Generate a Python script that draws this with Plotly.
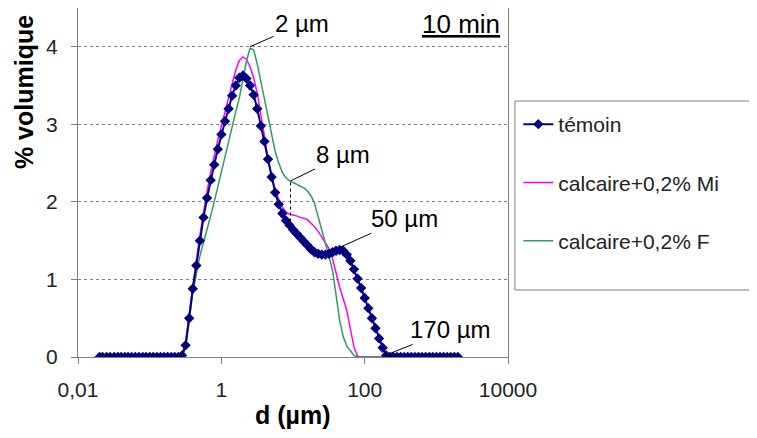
import plotly.graph_objects as go

# Size classes (µm) of the granulometer
d_um = [0.020, 0.022, 0.025, 0.028, 0.032, 0.036, 0.040, 0.045, 0.050, 0.056,
        0.063, 0.071, 0.080, 0.089, 0.100, 0.112, 0.126, 0.142, 0.159, 0.178,
        0.200, 0.224, 0.252, 0.283, 0.317, 0.356, 0.399, 0.448, 0.502, 0.564,
        0.632, 0.710, 0.796, 0.893, 1.002, 1.125, 1.262, 1.416, 1.589, 1.783,
        2.000, 2.244, 2.518, 2.825, 3.170, 3.557, 3.991, 4.477, 5.024, 5.637,
        6.325, 7.096, 7.962, 8.934, 10.024, 11.247, 12.619, 14.159, 15.887, 17.825,
        20.000, 22.440, 25.179, 28.251, 31.698, 35.566, 39.905, 44.774, 50.238, 56.368,
        63.246, 70.963, 79.621, 89.337, 100.237, 112.468, 126.191, 141.589, 158.866, 178.250,
        200.000, 224.404, 251.785, 282.508, 316.979, 355.656, 399.052, 447.744, 502.377, 563.677,
        632.456, 709.627, 796.214, 893.367, 1002.374, 1124.683, 1261.915, 1415.892, 1588.656, 1782.502,
        2000.000]

temoin = [0, 0, 0, 0, 0, 0, 0, 0, 0, 0,
          0, 0, 0, 0, 0, 0, 0, 0, 0, 0,
          0, 0, 0, 0.02, 0.15, 0.50, 0.88, 1.18, 1.50, 1.80,
          2.05, 2.28, 2.48, 2.68, 2.87, 3.04, 3.20, 3.37, 3.50, 3.60,
          3.63, 3.59, 3.50, 3.38, 3.20, 2.98, 2.78, 2.55, 2.32, 2.12,
          1.97, 1.85, 1.76, 1.70, 1.64, 1.59, 1.54, 1.49, 1.44, 1.39,
          1.35, 1.33, 1.32, 1.32, 1.33, 1.35, 1.37, 1.38, 1.37, 1.32,
          1.24, 1.13, 1.01, 0.89, 0.76, 0.63, 0.50, 0.37, 0.24, 0.12,
          0.02, 0, 0, 0, 0, 0, 0, 0, 0, 0,
          0, 0, 0, 0, 0, 0, 0, 0, 0, 0,
          0]

calc_mi = [0, 0, 0, 0, 0, 0, 0, 0, 0, 0,
           0, 0, 0, 0, 0, 0, 0, 0, 0, 0,
           0, 0, 0, 0.03, 0.20, 0.55, 0.93, 1.25, 1.57, 1.88,
           2.14, 2.38, 2.60, 2.80, 2.98, 3.15, 3.33, 3.52, 3.70, 3.82,
           3.87, 3.84, 3.74, 3.60, 3.40, 3.15, 2.85, 2.55, 2.32, 2.17,
           2.03, 1.93, 1.87, 1.84, 1.83, 1.82, 1.80, 1.79, 1.77, 1.73,
           1.68, 1.62, 1.55, 1.48, 1.40, 1.27, 1.07, 0.90, 0.75, 0.60,
           0.36, 0.13, 0.01, 0, 0, 0, 0, 0, 0, 0,
           0, 0, 0, 0, 0, 0, 0, 0, 0, 0,
           0, 0, 0, 0, 0, 0, 0, 0, 0, 0,
           0]

calc_f = [0, 0, 0, 0, 0, 0, 0, 0, 0, 0,
          0, 0, 0, 0, 0, 0, 0, 0, 0, 0,
          0, 0, 0, 0, 0.13, 0.46, 0.82, 1.07, 1.30, 1.48,
          1.64, 1.82, 2.00, 2.20, 2.40, 2.58, 2.78, 2.98, 3.16, 3.34,
          3.57, 3.82, 3.98, 3.96, 3.78, 3.55, 3.30, 3.07, 2.85, 2.65,
          2.50, 2.38, 2.31, 2.27, 2.25, 2.23, 2.21, 2.18, 2.14, 2.08,
          1.98, 1.82, 1.65, 1.47, 1.30, 1.12, 0.80, 0.47, 0.26, 0.14,
          0.08, 0.02, 0, 0, 0, 0, 0, 0, 0, 0,
          0, 0, 0, 0, 0, 0, 0, 0, 0, 0,
          0, 0, 0, 0, 0, 0, 0, 0, 0, 0,
          0]

x_tickvals = [0.01, 1, 100, 10000]
x_ticktext = ["0,01", "1", "100", "10000"]
y_tickvals = [0, 1, 2, 3, 4]

FONT = "Liberation Sans, Arial, sans-serif"
GRAY = "#808080"

fig = go.Figure()
fig.add_trace(go.Scatter(x=d_um, y=calc_mi, mode="lines", name="calcaire+0,2% Mi",
                         line=dict(color="#FF00FF", width=1.5),
                         legendgroup="b", legendrank=2))
fig.add_trace(go.Scatter(x=d_um, y=calc_f, mode="lines", name="calcaire+0,2% F",
                         line=dict(color="#339966", width=1.5),
                         legendgroup="c", legendrank=3))
fig.add_trace(go.Scatter(x=d_um, y=temoin, mode="lines+markers", name="témoin",
                         line=dict(color="#000080", width=2),
                         marker=dict(symbol="diamond", size=8, color="#000080"),
                         legendgroup="a", legendrank=1))

# the page body adds an 8 px margin; keep the figure inside the window
fig.update_layout(
    width=741, height=422, autosize=False,
    margin=dict(l=70, r=241, t=0, b=73),
    paper_bgcolor="white", plot_bgcolor="white",
    font=dict(family=FONT, size=21, color="#222222"),
    showlegend=True,
    legend=dict(x=1.024, xanchor="left", y=0.725, yanchor="top",
                font=dict(family=FONT, size=21, color="#222222"),
                bgcolor="rgba(0,0,0,0)", bordercolor="rgba(0,0,0,0)", borderwidth=0,
                tracegroupgap=28, itemwidth=30, traceorder="grouped",
                entrywidth=300, entrywidthmode="pixels"),
    xaxis=dict(type="log", range=[-2, 4], tickvals=x_tickvals, ticktext=x_ticktext,
               ticks="outside", ticklen=6, tickcolor=GRAY, showline=True,
               linecolor=GRAY, linewidth=1, mirror=True, showgrid=False,
               zeroline=False, tickfont=dict(size=21, color="#222222"),
               ticklabelstandoff=8),
    yaxis=dict(range=[0, 4.5], tickvals=y_tickvals, ticks="outside", ticklen=6,
               tickcolor=GRAY, showline=True, linecolor=GRAY, linewidth=1,
               mirror=True, showgrid=True, gridcolor=GRAY, griddash="dot",
               gridwidth=1, zeroline=False, tickfont=dict(size=21, color="#222222"),
               ticklabelstandoff=9),
)

# legend frame (open on the right: it runs past the picture edge)
LX0, LX1, LY0, LY1 = 1.016, 1.62, 0.192, 0.7335
for (a, b, c, e) in [(LX0, LY0, LX1, LY0), (LX0, LY1, LX1, LY1), (LX0, LY0, LX0, LY1)]:
    fig.add_shape(type="line", xref="paper", yref="paper", x0=a, y0=b, x1=c, y1=e,
                  line=dict(color=GRAY, width=1), layer="above")

# vertical dotted marker at 8 µm shoulder
fig.add_shape(type="line", xref="x", yref="y", x0=9.23, x1=9.23, y0=1.67, y1=2.27,
              line=dict(color="black", width=1, dash="dot"))

ann_font = dict(family=FONT, size=24, color="black")
fig.add_annotation(text="% volumique", xref="paper", yref="paper", x=-0.1256, y=0.759,
                   xanchor="center", yanchor="middle",
                   textangle=-90, showarrow=False,
                   font=dict(family=FONT, size=25, color="black", weight="bold"))
fig.add_annotation(text="d (µm)", xref="paper", yref="paper", x=0.5, y=-0.2085,
                   xanchor="center", yanchor="bottom", borderpad=0, showarrow=False,
                   font=dict(family=FONT, size=25, color="black", weight="bold"))
fig.add_annotation(text="<u>10 min</u>", xref="paper", yref="paper", x=0.986, y=0.954,
                   xanchor="right", yanchor="middle", showarrow=False,
                   font=dict(family=FONT, size=26, color="black"))

for txt, lx, yy, axp, ayp in [("2 µm", 0.40, 4.0, 52, -23),
                              ("8 µm", 0.965, 2.27, 53, -26),
                              ("50 µm", 1.655, 1.415, 65, -29),
                              ("170 µm", 2.284, 0.02, 65, -26)]:
    fig.add_annotation(text=txt, x=lx, y=yy, xref="x", yref="y", ax=axp, ay=ayp,
                       showarrow=True, arrowhead=0, arrowwidth=1, arrowcolor="black",
                       font=ann_font)

fig.write_html("out.html")
